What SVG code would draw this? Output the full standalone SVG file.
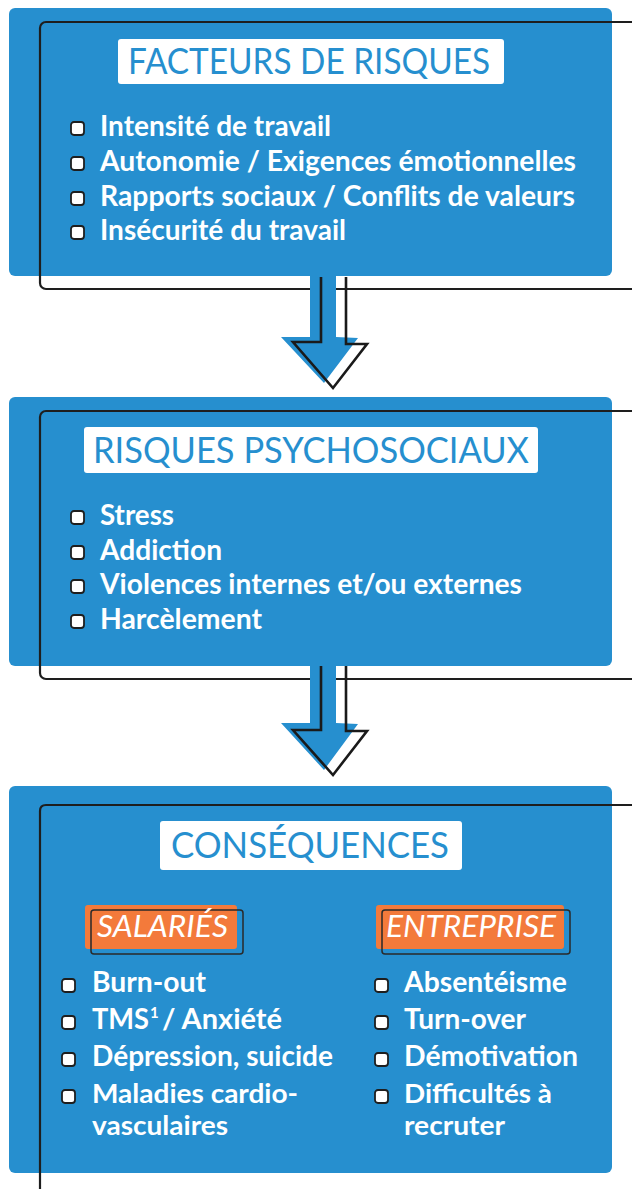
<svg xmlns="http://www.w3.org/2000/svg" width="632" height="1189" viewBox="0 0 632 1189">
<defs>
<style>
.panel{fill:#268fcf}
.frame{fill:none;stroke:#1e1e1e;stroke-width:2.2;stroke-linejoin:round}
.tbox{fill:#ffffff}
.title{font-family:Lato,"Liberation Sans",sans-serif;font-weight:400;font-size:36px;fill:#268fcf}
.item{font-family:Lato,"Liberation Sans",sans-serif;font-weight:700;font-size:28px;fill:#ffffff}
.item2{font-family:Lato,"Liberation Sans",sans-serif;font-weight:700;font-size:26px;fill:#ffffff}
.sup{font-family:Lato,"Liberation Sans",sans-serif;font-weight:700;font-size:15px;fill:#ffffff}
.bul{fill:#ffffff;stroke:#1e1e1e;stroke-width:1.8}
.tag{fill:#f37a3b}
.tagframe{fill:none;stroke:#2a2a2a;stroke-width:1.5}
.tagtext{font-family:Lato,"Liberation Sans",sans-serif;font-style:italic;font-weight:400;font-size:30px;fill:#ffffff}
.arrowfill{fill:#268fcf}
.arrowline{fill:none;stroke:#1a1a1a;stroke-width:2.6;stroke-linejoin:miter}
</style>
<rect id="b" class="bul" width="13" height="13" rx="3"/>
</defs>

<g id="node-facteurs">
<rect class="panel" x="9" y="8" width="603" height="268" rx="6"/>
<rect class="frame" x="40" y="22" width="700" height="267" rx="6"/>
<rect class="tbox" x="118" y="39" width="386" height="45" rx="3"/>
<text class="title" x="128" y="74" textLength="362" lengthAdjust="spacingAndGlyphs">FACTEURS DE RISQUES</text>
<use href="#b" x="71" y="122"/>
<use href="#b" x="71" y="157"/>
<use href="#b" x="71" y="192"/>
<use href="#b" x="71" y="226"/>
<text class="item" x="100" y="136" textLength="231" lengthAdjust="spacingAndGlyphs">Intensité de travail</text>
<text class="item" x="100" y="171" textLength="476" lengthAdjust="spacingAndGlyphs">Autonomie / Exigences émotionnelles</text>
<text class="item" x="100" y="206" textLength="475" lengthAdjust="spacingAndGlyphs">Rapports sociaux / Conflits de valeurs</text>
<text class="item" x="100" y="240" textLength="246" lengthAdjust="spacingAndGlyphs">Insécurité du travail</text>
</g>

<g id="node-rps">
<rect class="panel" x="9" y="397" width="603" height="269" rx="6"/>
<rect class="frame" x="40" y="411" width="700" height="268" rx="6"/>
<rect class="tbox" x="84" y="427" width="454" height="46" rx="3"/>
<text class="title" x="93" y="463" textLength="436" lengthAdjust="spacingAndGlyphs">RISQUES PSYCHOSOCIAUX</text>
<use href="#b" x="71" y="511"/>
<use href="#b" x="71" y="546"/>
<use href="#b" x="71" y="580"/>
<use href="#b" x="71" y="615"/>
<text class="item" x="100" y="525" textLength="74" lengthAdjust="spacingAndGlyphs">Stress</text>
<text class="item" x="100" y="560" textLength="122" lengthAdjust="spacingAndGlyphs">Addiction</text>
<text class="item" x="100" y="594" textLength="422" lengthAdjust="spacingAndGlyphs">Violences internes et/ou externes</text>
<text class="item" x="100" y="629" textLength="162" lengthAdjust="spacingAndGlyphs">Harcèlement</text>
</g>

<g id="node-consequences">
<rect class="panel" x="9" y="786" width="603" height="387" rx="6"/>
<path class="frame" d="M 640 805 H 46 Q 40 805 40 811 V 1190"/>
<rect class="tbox" x="160" y="821" width="302" height="49" rx="3"/>
<text class="title" x="171" y="858" textLength="278" lengthAdjust="spacingAndGlyphs">CONSÉQUENCES</text>

<rect class="tag" x="85" y="905" width="152" height="44" rx="3"/>
<rect class="tagframe" x="91" y="910" width="152" height="44" rx="3"/>
<text class="tagtext" x="97" y="937" textLength="131" lengthAdjust="spacingAndGlyphs">SALARIÉS</text>

<rect class="tag" x="376" y="905" width="188" height="44" rx="3"/>
<rect class="tagframe" x="382" y="910" width="188" height="44" rx="3"/>
<text class="tagtext" x="386" y="937" textLength="170" lengthAdjust="spacingAndGlyphs">ENTREPRISE</text>

<use href="#b" x="62" y="979"/>
<use href="#b" x="62" y="1016"/>
<use href="#b" x="62" y="1053"/>
<use href="#b" x="62" y="1090"/>
<text class="item" x="92" y="992" textLength="114" lengthAdjust="spacingAndGlyphs">Burn-out</text>
<text class="item" x="92" y="1029" textLength="57" lengthAdjust="spacingAndGlyphs">TMS</text>
<text class="sup" x="150" y="1018">1</text>
<text class="item" x="162" y="1029" textLength="120" lengthAdjust="spacingAndGlyphs">/ Anxiété</text>
<text class="item" x="92" y="1066" textLength="241" lengthAdjust="spacingAndGlyphs">Dépression, suicide</text>
<text class="item2" x="92" y="1103" textLength="206" lengthAdjust="spacingAndGlyphs">Maladies cardio-</text>
<text class="item2" x="92" y="1135" textLength="136" lengthAdjust="spacingAndGlyphs">vasculaires</text>

<use href="#b" x="375" y="979"/>
<use href="#b" x="375" y="1016"/>
<use href="#b" x="375" y="1053"/>
<use href="#b" x="375" y="1090"/>
<text class="item" x="404" y="992" textLength="163" lengthAdjust="spacingAndGlyphs">Absentéisme</text>
<text class="item" x="404" y="1029" textLength="122" lengthAdjust="spacingAndGlyphs">Turn-over</text>
<text class="item" x="404" y="1066" textLength="174" lengthAdjust="spacingAndGlyphs">Démotivation</text>
<text class="item2" x="404" y="1103" textLength="148" lengthAdjust="spacingAndGlyphs">Difficultés à</text>
<text class="item2" x="404" y="1135" textLength="101" lengthAdjust="spacingAndGlyphs">recruter</text>
</g>

<g id="connectors">
<polygon class="arrowfill" points="310,270 336,270 336,337 358,338 324,383 281,337 310,337"/>
<path class="arrowline" d="M 321 277 V 342 H 293 L 333 388 L 367 344 H 346 V 277"/>
<polygon class="arrowfill" points="310,660 336,660 336,723 358,724 324,770 281,723 310,723"/>
<path class="arrowline" d="M 321 666 V 730 H 293 L 333 775 L 367 731 H 346 V 666"/>
</g>
</svg>
